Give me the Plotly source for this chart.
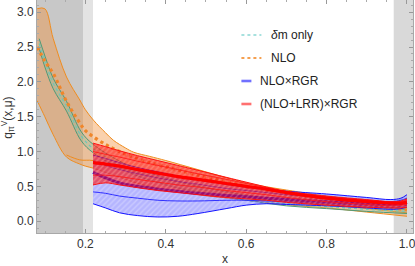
import plotly.graph_objects as go

# ---------------- data ----------------
nlo_x = [0.08, 0.099, 0.12, 0.153, 0.186, 0.2, 0.22, 0.25, 0.27, 0.3, 0.32, 0.36, 0.4, 0.48, 0.6, 0.73, 0.8, 0.9, 1.0]
nlo_hi = [3.05, 3.05, 2.62, 2.07, 1.74, 1.6, 1.45, 1.27, 1.16, 1.05, 0.99, 0.93, 0.87, 0.74, 0.55, 0.42, 0.36, 0.29, 0.22]
nlo_lo = [1.73, 1.5, 1.24, 0.92, 0.82, 0.79, 0.76, 0.7, 0.66, 0.6, 0.56, 0.5, 0.46, 0.38, 0.3, 0.22, 0.19, 0.13, 0.07]
nlo_mid = [2.5, 2.3, 2.12, 1.72, 1.41, 1.3, 1.21, 1.1, 1.04, 0.96, 0.92, 0.84, 0.78, 0.66, 0.5, 0.36, 0.31, 0.24, 0.16]
nlo_in_x = [0.153, 0.186, 0.22, 0.3, 0.4, 0.5, 0.6, 0.7, 0.8, 0.9, 1.0]
nlo_in = [0.95, 0.88, 0.87, 0.74, 0.6, 0.48, 0.38, 0.3, 0.24, 0.18, 0.12]

dm_x = [0.085, 0.1, 0.12, 0.153, 0.19, 0.22, 0.3, 0.4, 0.5, 0.6, 0.7, 0.8, 0.9, 1.0]
dm_hi = [2.62, 2.36, 2.05, 1.72, 1.28, 1.1, 0.82, 0.62, 0.48, 0.37, 0.29, 0.24, 0.2, 0.17]
dm_lo = [2.48, 2.2, 1.9, 1.58, 1.15, 0.98, 0.72, 0.52, 0.4, 0.3, 0.22, 0.18, 0.14, 0.11]
dm_mid = [2.55, 2.28, 1.98, 1.65, 1.22, 1.04, 0.77, 0.57, 0.44, 0.33, 0.25, 0.21, 0.17, 0.14]

rgr_x = [0.219, 0.25, 0.285, 0.33, 0.38, 0.43, 0.48, 0.55, 0.6, 0.65, 0.7, 0.8, 0.9, 0.96, 0.985, 1.0]
blue_hi = [0.95, 0.9, 0.84, 0.77, 0.71, 0.65, 0.6, 0.53, 0.49, 0.46, 0.43, 0.39, 0.34, 0.31, 0.33, 0.38]
blue_mid = [0.70, 0.62, 0.55, 0.5, 0.46, 0.43, 0.4, 0.37, 0.35, 0.33, 0.31, 0.28, 0.25, 0.24, 0.25, 0.27]
blue_lo = [0.25, 0.19, 0.12, 0.08, 0.06, 0.07, 0.11, 0.18, 0.23, 0.25, 0.24, 0.22, 0.19, 0.17, 0.18, 0.2]
blue_in1 = [0.86, 0.8, 0.74, 0.68, 0.62, 0.57, 0.53, 0.47, 0.44, 0.41, 0.38, 0.34, 0.3, 0.28, 0.3, 0.33]
blue_in2 = [0.42, 0.4, 0.36, 0.33, 0.3, 0.29, 0.29, 0.3, 0.3, 0.29, 0.28, 0.25, 0.22, 0.2, 0.21, 0.23]

red_hi = [1.12, 1.07, 1.01, 0.94, 0.87, 0.8, 0.73, 0.63, 0.56, 0.49, 0.43, 0.36, 0.31, 0.28, 0.29, 0.32]
red_mid = [0.84, 0.82, 0.79, 0.74, 0.69, 0.64, 0.6, 0.54, 0.5, 0.46, 0.41, 0.33, 0.28, 0.26, 0.26, 0.27]
red_lo = [0.52, 0.55, 0.52, 0.48, 0.44, 0.41, 0.38, 0.34, 0.32, 0.3, 0.27, 0.23, 0.2, 0.19, 0.19, 0.2]
red_in1 = [1.0, 0.96, 0.92, 0.86, 0.8, 0.74, 0.68, 0.6, 0.54, 0.48, 0.42, 0.35, 0.3, 0.27, 0.28, 0.3]
red_in2 = [0.66, 0.66, 0.64, 0.6, 0.56, 0.52, 0.49, 0.44, 0.41, 0.38, 0.34, 0.28, 0.24, 0.22, 0.23, 0.24]

legend_labels = ["<i>δ</i>m only", "NLO", "NLO×RGR", "(NLO+LRR)×RGR"]
x_ticks = [0.2, 0.4, 0.6, 0.8, 1.0]
y_ticks = [0.0, 0.5, 1.0, 1.5, 2.0, 2.5, 3.0]

X_RANGE = [0.0796, 1.015]
Y_RANGE = [-0.17, 3.175]

FONT = "Liberation Sans"
fig = go.Figure()


def band(x, lo, hi, edge, fillcolor=None, pattern=None, width=1.0):
    fig.add_trace(go.Scatter(x=x, y=lo, mode="lines", line=dict(color=edge, width=width, shape="spline"),
                             showlegend=False, hoverinfo="skip"))
    kw = dict(fill="tonexty")
    if pattern is not None:
        kw["fillpattern"] = pattern
    else:
        kw["fillcolor"] = fillcolor
    fig.add_trace(go.Scatter(x=x, y=hi, mode="lines", line=dict(color=edge, width=width, shape="spline"),
                             showlegend=False, hoverinfo="skip", **kw))


def line(x, y, color, width, dash="solid"):
    fig.add_trace(go.Scatter(x=x, y=y, mode="lines", line=dict(color=color, width=width, dash=dash, shape="spline"),
                             showlegend=False, hoverinfo="skip"))


# NLO band (orange)
band(nlo_x, nlo_lo, nlo_hi, "#f08c1e", fillcolor="rgba(242,140,50,0.40)")
line(nlo_in_x, nlo_in, "#f08c1e", 1.0)

# delta m band (green)
band(dm_x, dm_lo, dm_hi, "#4f9a78", fillcolor="rgba(110,190,160,0.25)")
line(dm_x, dm_mid, "#6cc8b8", 1.2, "dot")

# NLO dotted centre
line(nlo_x, nlo_mid, "#f0862a", 3.2, "dot")

# NLOxRGR band (blue)
band(rgr_x, blue_lo, blue_hi, "#1414ff",
     pattern=dict(shape="/", bgcolor="rgba(90,90,255,0.45)", fgcolor="rgba(255,255,255,0.55)",
                  size=4, solidity=0.35))
line(rgr_x, blue_in1, "#2020ff", 0.9)
line(rgr_x, blue_in2, "#2020ff", 0.9)
line(rgr_x, blue_mid, "#0000ff", 3.0)

# (NLO+LRR)xRGR band (red)
band(rgr_x, red_lo, red_hi, "#ff1010",
     pattern=dict(shape="/", bgcolor="rgba(255,15,15,0.6)", fgcolor="rgba(255,225,210,0.5)",
                  size=4, solidity=0.35))
line(rgr_x, red_in1, "#ff1a1a", 0.9)
line(rgr_x, red_in2, "#ff1a1a", 0.9)
line(rgr_x, red_mid, "#ff0000", 3.2)

# ---------------- layout helpers (pixel -> paper) ----------------
L, R, T, B = 37.3, 413.3, 0.0, 233.0


def px(xp):
    return (xp - L) / (R - L)


def py(yp):
    return (B - yp) / (B - T)


shapes = [
    dict(type="rect", xref="x", yref="paper", x0=X_RANGE[0], x1=0.194, y0=0, y1=1,
         fillcolor="#c8c8c8", line_width=0, layer="below"),
    dict(type="rect", xref="x", yref="paper", x0=0.194, x1=0.219, y0=0, y1=1,
         fillcolor="#e3e3e3", line_width=0, layer="below"),
    dict(type="rect", xref="x", yref="paper", x0=0.967, x1=X_RANGE[1], y0=0, y1=1,
         fillcolor="#d9d9d9", line_width=0, layer="below"),
]

# legend (manual)
leg_rows = [
    (35, 241.7, 261.7, 269.5, "#8ad8d4", "dot", 1.6),
    (58, 241.7, 261.7, 269.5, "#f5a050", "dot", 1.8),
    (81, 241.7, 251.7, 258.5, "#7070ff", "solid", 2.6),
    (104, 241.7, 251.7, 258.5, "#ff7070", "solid", 2.6),
]
annotations = []
for (yy, x0, x1, xt, col, dash, w), lab in zip(leg_rows, legend_labels):
    shapes.append(dict(type="line", xref="paper", yref="paper", x0=px(x0), x1=px(x1), y0=py(yy), y1=py(yy),
                       line=dict(color=col, width=w, dash=dash)))
    annotations.append(dict(xref="paper", yref="paper", x=px(xt), y=py(yy), text=lab, showarrow=False,
                            xanchor="left", yanchor="middle", font=dict(family=FONT, size=12, color="#222")))

annotations.append(dict(xref="paper", yref="paper", x=px(225), y=py(259), text="x", showarrow=False,
                        xanchor="center", yanchor="middle", font=dict(family=FONT, size=12, color="#333")))
annotations.append(dict(xref="paper", yref="paper", x=px(8), y=py(118),
                        text="q<sub>π</sub><sup>V</sup>(x,μ)", showarrow=False, textangle=-90,
                        xanchor="center", yanchor="middle", font=dict(family=FONT, size=12, color="#333")))

axis_common = dict(showgrid=False, zeroline=False, showline=True, linecolor="#a8a8a8", linewidth=1,
                   mirror="allticks", ticks="inside", ticklen=4, tickcolor="#999999", tickwidth=1,
                   ticklabeloverflow="allow",
                   tickfont=dict(family=FONT, size=12, color="#333"))

fig.update_layout(
    width=415, height=266,
    margin=dict(l=L, r=415 - R, t=T, b=266 - B, autoexpand=False),
    paper_bgcolor="white", plot_bgcolor="white",
    showlegend=False,
    shapes=shapes, annotations=annotations,
    xaxis=dict(range=X_RANGE, tickvals=x_ticks, ticktext=[f"{v:.1f}" for v in x_ticks],
               minor=dict(dtick=0.05, tick0=0, ticklen=2, ticks="inside", tickcolor="#aaaaaa"),
               **axis_common),
    yaxis=dict(range=Y_RANGE, tickvals=y_ticks, ticktext=[f"{v:.1f}" for v in y_ticks],
               minor=dict(dtick=0.1, tick0=0, ticklen=2, ticks="inside", tickcolor="#aaaaaa"),
               **axis_common),
)

fig.write_html("out.html", config={"displayModeBar": False},
               post_script="document.body.style.margin='0';document.body.style.overflow='hidden';")
